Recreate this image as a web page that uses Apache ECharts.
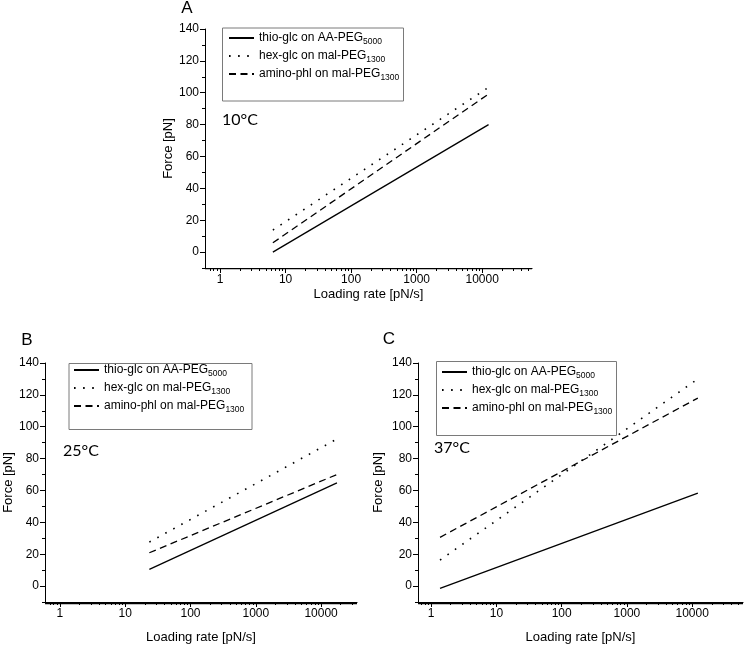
<!DOCTYPE html>
<html><head><meta charset="utf-8">
<script src="https://cdn.jsdelivr.net/npm/echarts@6/dist/echarts.min.js"></script>
<style>html,body{margin:0;padding:0;background:#fff}#c{width:745px;height:645px}</style>
</head><body><div id="c"></div><script>
// ---- data ----
const seriesNames = ['thio-glc on AA-PEG5000', 'hex-glc on mal-PEG1300', 'amino-phl on mal-PEG1300'];
const legendMain = ['thio-glc on AA-PEG', 'hex-glc on mal-PEG', 'amino-phl on mal-PEG'];
const legendSub = ['5000', '1300', '1300'];
const panelLetters = ['A', 'B', 'C'];
const temperatures = ['10°C', '25°C', '37°C'];
const xAxisName = 'Loading rate [pN/s]';
const yAxisName = 'Force [pN]';
// loading rate [pN/s] at the two ends of each fitted line, force [pN]
const rateA = [6.4, 12500];
const thioA = [0, 80];
const hexA = [13.8, 103.4];
const aminoA = [5.8, 99.2];
const rateB = [23.4, 17500];
const thioB = [10.5, 64.8];
const hexB = [27.6, 92.3];
const aminoB = [20.9, 70];
const rateC = [1.37, 12200];
const thioC = [-1.5, 58.3];
const hexC = [16.3, 130];
const aminoC = [30.6, 118];
const xMajorTicks = [1, 10, 100, 1000, 10000];
const xMinorTicks = [0.7, 0.8, 0.9, 2, 3, 4, 5, 6, 7, 8, 9, 20, 30, 40, 50, 60, 70, 80, 90,
  200, 300, 400, 500, 600, 700, 800, 900, 2000, 3000, 4000, 5000, 6000, 7000, 8000, 9000,
  20000, 30000, 40000, 50000];
const yMajorTicks = [0, 20, 40, 60, 80, 100, 120, 140];
const yMinorTicks = [-10, 10, 30, 50, 70, 90, 110, 130];

// ---- layout / style ----
const FONT = '"Liberation Sans", Arial, sans-serif';
const panels = [
  { grid: { left: 205, top: 29, width: 327, height: 239 }, xMin: 0.59, xMax: 57500, yMin: -10, yMax: 140,
    rates: rateA, vals: [thioA, hexA, aminoA], xNameGap: 20, yNameGap: 30,
    legend: { left: 228, top: 30 }, box: [222, 27.5, 181, 73],
    letter: [187, 8], temp: [222, 120] },
  { grid: { left: 45, top: 363, width: 312, height: 240 }, xMin: 0.59, xMax: 35500, yMin: -10, yMax: 140,
    rates: rateB, vals: [thioB, hexB, aminoB], xNameGap: 29, yNameGap: 28,
    legend: { left: 73, top: 362 }, box: [68.5, 363, 183, 66],
    letter: [27, 340], temp: [63, 451] },
  { grid: { left: 418, top: 363, width: 325, height: 240 }, xMin: 0.63, xMax: 60000, yMin: -10, yMax: 140,
    rates: rateC, vals: [thioC, hexC, aminoC], xNameGap: 29, yNameGap: 33,
    legend: { left: 441, top: 364 }, box: [436, 361, 180, 74],
    letter: [389, 339], temp: [434, 448] }
];
const lineStyles = [
  { color: '#000', width: 1.3, type: 'solid' },
  { color: '#000', width: 1.6, type: [1.6, 7.5] },
  { color: '#000', width: 1.3, type: [7, 4.5] }
];

const grids = [], xAxes = [], yAxes = [], series = [], legends = [], graphics = [];
panels.forEach((p, i) => {
  grids.push(Object.assign({ containLabel: false }, p.grid));
  const inX = v => v >= p.xMin && v <= p.xMax;
  const inY = v => v >= p.yMin && v <= p.yMax;
  const axisText = { color: '#000', fontFamily: FONT, fontSize: 12 };
  xAxes.push({
    type: 'log', logBase: 10, gridIndex: i, min: p.xMin, max: p.xMax,
    name: xAxisName, nameLocation: 'middle', nameGap: p.xNameGap,
    nameTextStyle: { color: '#000', fontFamily: FONT, fontSize: 13 },
    axisLine: { show: true, onZero: false, lineStyle: { color: '#000', width: 1.2 } },
    axisTick: { show: true, inside: false, length: 5, lineStyle: { color: '#000' }, customValues: xMajorTicks.filter(inX) },
    axisLabel: Object.assign({ margin: 6, customValues: xMajorTicks.filter(inX), formatter: v => String(Math.round(v)) }, axisText),
    splitLine: { show: false }, minorTick: { show: false }
  });
  xAxes.push({
    type: 'log', logBase: 10, gridIndex: i, position: 'bottom', min: p.xMin, max: p.xMax,
    axisLine: { show: false, onZero: false },
    axisTick: { show: true, inside: false, length: 3, lineStyle: { color: '#000' }, customValues: xMinorTicks.filter(inX) },
    axisLabel: { show: false }, splitLine: { show: false }
  });
  yAxes.push({
    type: 'value', gridIndex: i, position: 'left', min: p.yMin, max: p.yMax,
    name: yAxisName, nameLocation: 'middle', nameGap: p.yNameGap,
    nameTextStyle: { color: '#000', fontFamily: FONT, fontSize: 13 },
    axisLine: { show: true, lineStyle: { color: '#000', width: 1 } },
    axisTick: { show: true, inside: false, length: 5, lineStyle: { color: '#000' }, customValues: yMajorTicks.filter(inY) },
    axisLabel: Object.assign({ margin: 6, customValues: yMajorTicks.filter(inY) }, axisText),
    splitLine: { show: false }
  });
  yAxes.push({
    type: 'value', gridIndex: i, position: 'left', min: p.yMin, max: p.yMax,
    axisLine: { show: false },
    axisTick: { show: true, inside: false, length: 3, lineStyle: { color: '#000' }, customValues: yMinorTicks.filter(inY) },
    axisLabel: { show: false }, splitLine: { show: false }
  });
  p.vals.forEach((vals, k) => {
    series.push({
      type: 'line', name: seriesNames[k], xAxisIndex: i * 2, yAxisIndex: i * 2,
      data: p.rates.map((r, j) => [r, vals[j]]),
      symbol: 'none', silent: true, animation: false,
      lineStyle: lineStyles[k], itemStyle: { color: '#000' }
    });
  });
  legends.push({
    orient: 'vertical', left: p.legend.left, top: p.legend.top, padding: 0,
    itemWidth: 25, itemHeight: 14, itemGap: 2, selectedMode: false,
    itemStyle: { opacity: 0, borderWidth: 0 },
    data: seriesNames,
    formatter: name => { const k = seriesNames.indexOf(name); return legendMain[k] + '{sub|' + legendSub[k] + '}'; },
    textStyle: { color: '#000', fontFamily: FONT, fontSize: 12, lineHeight: 16,
      rich: { sub: { color: '#000', fontFamily: FONT, fontSize: 8.5, lineHeight: 8, verticalAlign: 'bottom' } } }
  });
  // bottom axis line along the lower edge of the plot area (drawn as a thin filled bar)
  graphics.push({ type: 'rect', silent: true, z: 100,
    shape: { x: p.grid.left, y: p.grid.top + p.grid.height, width: p.grid.width, height: 1.2 },
    style: { fill: '#000', stroke: null } });
  graphics.push({ type: 'rect', silent: true, shape: { x: p.box[0] + 0.5, y: p.box[1] + 0.5, width: p.box[2], height: p.box[3] },
    style: { fill: 'none', stroke: '#7a7a7a', lineWidth: 1 } });
  graphics.push({ type: 'text', silent: true, x: p.letter[0], y: p.letter[1],
    style: { text: panelLetters[i], fill: '#000', font: '17px ' + FONT, align: 'center', verticalAlign: 'middle' } });
  graphics.push({ type: 'text', silent: true, x: p.temp[0], y: p.temp[1],
    style: { text: temperatures[i], fill: '#000', font: '16px Lato, "Open Sans", sans-serif', align: 'left', verticalAlign: 'middle' } });
});

const chart = echarts.init(document.getElementById('c'), null, { renderer: 'canvas' });
chart.setOption({
  animation: false, backgroundColor: '#fff',
  grid: grids, xAxis: xAxes, yAxis: yAxes, series: series, legend: legends, graphic: graphics
});
</script></body></html>
